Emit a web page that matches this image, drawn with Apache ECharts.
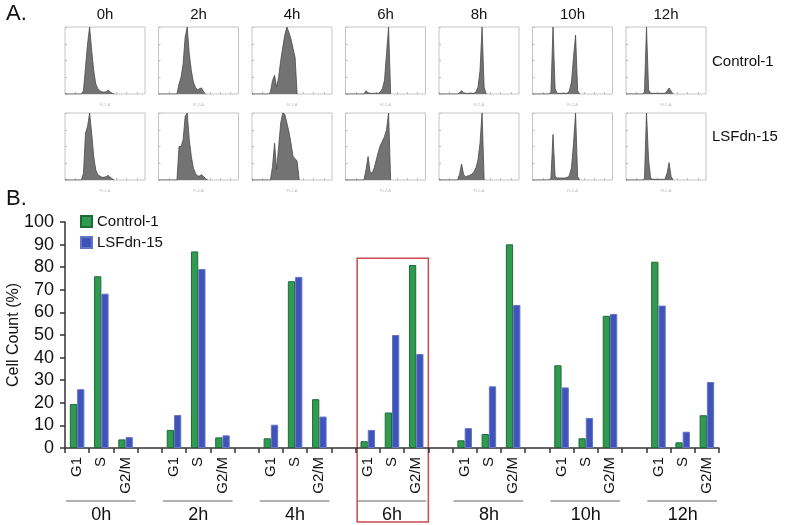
<!DOCTYPE html>
<html>
<head>
<meta charset="utf-8">
<script src="https://cdn.jsdelivr.net/npm/echarts@6/dist/echarts.min.js"></script>
<style>html,body{margin:0;padding:0;background:#fff}#main{width:785px;height:525px}</style>
</head>
<body>
<div id="main"></div>
<script>
// time points and phases
var hours = ['0h', '2h', '4h', '6h', '8h', '10h', '12h'];
var phases = ['G1', 'S', 'G2/M'];
var rowNames = ['Control-1', 'LSFdn-15'];

// panel B: % cells per phase (G1, S, G2/M for each time point)
var controlPct = [19.5, 76, 3.8,  8, 87, 4.7,  4.3, 73.8, 21.6,  3, 15.7, 81,  3.4, 6.2, 90.1,  36.6, 4.3, 58.5,  82.4, 2.5, 14.5];
var lsfPct     = [26, 68.3, 4.8,  14.6, 79.2, 5.6,  10.3, 75.7, 13.9,  8, 50, 41.6,  8.8, 27.3, 63.3,  26.8, 13.3, 59.3,  63, 7.2, 29.2];

// panel A: DNA content histograms (40 bins, relative counts)
var controlHist = [
  [0,0,0,0,0,0,0,0,0,5,40,75,100,65,35,15,8,5,3,3,3,6,3,1,0],
  [0,0,0,0,0,0,0,0,0,0,15,25,45,85,100,60,35,18,10,6,8,9,3,0],
  [0,0,0,0,0,0,0,0,0,3,20,28,10,25,50,70,88,100,92,82,68,55,0],
  [0,0,0,0,0,0,0,0,0,0,5,2,1,1,1,1,1,3,8,20,60,100,0],
  [0,0,0,0,0,0,0,0,0,0,2,5,2,1,1,1,1,1,3,10,35,100,10,0],
  [0,0,0,0,0,0,0,0,0,3,100,8,1,1,1,1,1,1,5,18,55,88,5,0],
  [0,0,0,0,0,0,0,0,0,3,100,6,1,1,1,1,1,1,1,1,4,9,4,0]
];
var lsfHist = [
  [0,0,0,0,0,0,0,0,0,10,70,80,100,70,35,15,8,6,4,4,5,7,4,2,0],
  [0,0,0,0,0,0,0,0,0,0,50,50,60,95,100,60,35,18,10,6,6,8,5,2,0],
  [0,0,0,0,0,0,0,0,0,0,20,55,15,50,85,100,98,85,72,55,35,32,28,0],
  [0,0,0,0,0,0,0,0,0,0,15,35,12,10,18,30,42,52,58,65,75,100,0],
  [0,0,0,0,0,0,0,0,0,0,8,24,8,5,6,7,9,12,18,30,55,100,0],
  [0,0,0,0,0,0,0,0,0,3,68,6,3,3,3,3,3,4,7,18,55,100,5,0],
  [0,0,0,0,0,0,0,0,0,2,100,30,3,1,1,1,1,1,1,1,10,26,5,0]
];

var FONT = 'Liberation Sans, Arial, sans-serif';
var chart = echarts.init(document.getElementById('main'));

var bins = [];
for (var b = 0; b < 40; b++) bins.push(b);

var grids = [], xAxes = [], yAxes = [], series = [];

[controlHist, lsfHist].forEach(function (rows, r) {
  rows.forEach(function (h, c) {
    var idx = grids.length;
    grids.push({left: 65 + c * 93.5, top: r ? 113 : 27, width: 80, height: 67,
      outerBoundsMode: 'none', containLabel: false,
      show: true, borderColor: '#c4c4c4', borderWidth: 1});
    xAxes.push({type: 'category', gridIndex: idx, data: bins, boundaryGap: false,
      axisLine: {show: false}, axisLabel: {show: false},
      axisTick: {inside: true, length: 2, interval: 4, lineStyle: {color: '#bbb'}},
      name: 'FL2-A', nameLocation: 'middle', nameGap: 9,
      nameTextStyle: {fontSize: 4, color: '#bbb'}});
    yAxes.push({type: 'value', gridIndex: idx, min: 0, max: 100, interval: 25,
      splitLine: {show: false}, axisLabel: {show: false}, axisLine: {show: false},
      axisTick: {show: true, inside: true, length: 2, lineStyle: {color: '#bbb'}}});
    series.push({type: 'line', xAxisIndex: idx, yAxisIndex: idx, data: h, symbol: 'none',
      silent: true, lineStyle: {color: '#4a4a4a', width: 0.8},
      areaStyle: {color: '#737373', opacity: 1}});
  });
});

// panel B
var barIdx = grids.length;
grids.push({left: 65, right: 66, top: 222, bottom: 77, outerBoundsMode: 'none', containLabel: false});

var cats = [], groupLabels = [], ctlData = [], lsfData = [];
hours.forEach(function (hr, g) {
  phases.forEach(function (p, k) {
    cats.push(p);
    groupLabels.push(k === 1 ? hr : '');
    ctlData.push(controlPct[g * 3 + k]);
    lsfData.push(lsfPct[g * 3 + k]);
  });
  if (g < hours.length - 1) {
    cats.push('');
    groupLabels.push('');
    ctlData.push(null);
    lsfData.push(null);
  }
});

xAxes.push({type: 'category', gridIndex: barIdx, data: cats,
  axisLine: {lineStyle: {color: '#333', width: 1.5}},
  axisTick: {show: true, length: 5, interval: 0, lineStyle: {color: '#333', width: 1.5}},
  axisLabel: {interval: 0, rotate: 90, fontSize: 15, color: '#111', fontFamily: FONT, margin: 9}});
var grpAxis = xAxes.length;
xAxes.push({type: 'category', gridIndex: barIdx, data: groupLabels, position: 'bottom', offset: 50,
  axisLine: {show: false}, axisTick: {show: false},
  axisLabel: {interval: 0, fontSize: 18, color: '#111', fontFamily: FONT, margin: 8}});
var barX = grpAxis - 1;

yAxes.push({type: 'value', gridIndex: barIdx, min: 0, max: 100, interval: 10,
  name: 'Cell Count (%)', nameLocation: 'middle', nameGap: 43, nameMoveOverlap: false,
  nameTextStyle: {fontSize: 16, color: '#111', fontFamily: FONT},
  axisLine: {show: true, lineStyle: {color: '#333', width: 1.5}},
  axisTick: {show: true, length: 5, lineStyle: {color: '#333', width: 1.5}},
  splitLine: {show: false},
  axisLabel: {fontSize: 18, color: '#111', fontFamily: FONT, margin: 11}});

series.push({name: 'Control-1', type: 'bar', xAxisIndex: barX, yAxisIndex: barIdx, data: ctlData,
  barGap: '0%', barCategoryGap: '40%',
  itemStyle: {color: '#2f9a50', borderColor: '#1f6b37', borderWidth: 1}});
series.push({name: 'LSFdn-15', type: 'bar', xAxisIndex: barX, yAxisIndex: barIdx, data: lsfData,
  barGap: '0%', barCategoryGap: '40%',
  itemStyle: {color: '#3f53b9', borderColor: '#6474c8', borderWidth: 1}});

chart.setOption({
  animation: false,
  backgroundColor: '#fff',
  grid: grids,
  xAxis: xAxes,
  yAxis: yAxes,
  legend: {data: ['Control-1', 'LSFdn-15'], orient: 'vertical', left: 75, top: 209,
    itemWidth: 11, itemHeight: 11, itemGap: 6, icon: 'rect',
    textStyle: {fontSize: 15, color: '#111', fontFamily: FONT}},
  series: series
});

// texts, group underlines and the highlight box
var g = [];
g.push({type: 'text', left: 6, top: 3, style: {text: 'A.', font: '22px ' + FONT, fill: '#111'}});
g.push({type: 'text', left: 6, top: 188, style: {text: 'B.', font: '22px ' + FONT, fill: '#111'}});
hours.forEach(function (hr, c) {
  g.push({type: 'text', x: 65 + c * 93.5 + 40, y: 15,
    style: {text: hr, font: '15px ' + FONT, fill: '#111', align: 'center', verticalAlign: 'middle'}});
});
rowNames.forEach(function (nm, r) {
  g.push({type: 'text', x: 712, y: r ? 137 : 62,
    style: {text: nm, font: '15px ' + FONT, fill: '#111', align: 'left', verticalAlign: 'middle'}});
});

function px(i) { return chart.convertToPixel({xAxisIndex: barX}, i); }
var half = (px(1) - px(0)) / 2;
hours.forEach(function (hr, k) {
  g.push({type: 'line', shape: {x1: px(4 * k) - half + 1, y1: 501, x2: px(4 * k + 2) + half - 2, y2: 501},
    style: {stroke: '#9a9a9a', lineWidth: 1.5}});
});
var topY = chart.convertToPixel({yAxisIndex: barIdx}, 84);
var hi = hours.indexOf('6h');
g.push({type: 'rect', shape: {x: px(4 * hi) - half + 1.5, y: topY,
    width: px(4 * hi + 2) + half - (px(4 * hi) - half + 1.5), height: 522 - topY},
  style: {fill: 'none', stroke: '#cc4a50', lineWidth: 1.5}});

chart.setOption({graphic: g});
</script>
</body>
</html>
